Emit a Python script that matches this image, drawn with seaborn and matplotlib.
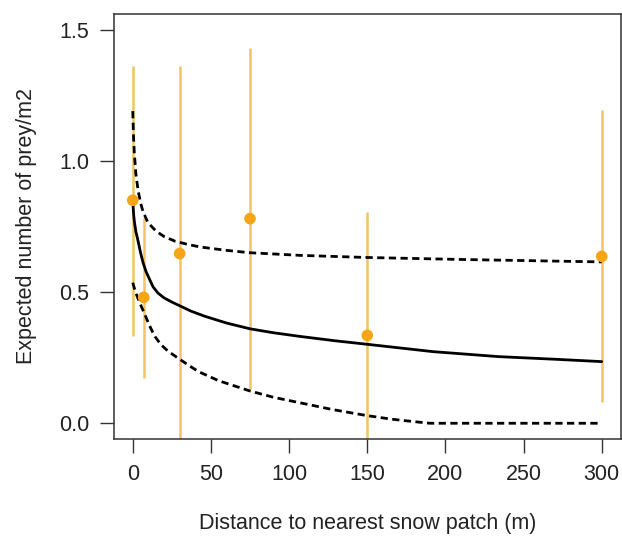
import matplotlib
matplotlib.use("Agg")
import matplotlib.pyplot as plt
import seaborn as sns
import numpy as np
import pandas as pd

# Observed means with intervals
obs_dist = [0, 7, 30, 75, 150, 300]
obs_mean = [0.85, 0.48, 0.647, 0.78, 0.335, 0.636]
obs_low = [0.331, 0.171, -0.10, 0.129, -0.10, 0.080]
obs_high = [1.363, 0.784, 1.363, 1.431, 0.807, 1.195]

# Fitted curve
fit_x = [0, 0.5, 1, 2, 3.2, 5, 6.6, 8.5, 10.8, 13, 16, 20, 25, 30, 37, 46,
         60, 75, 90, 107, 130, 150, 192, 234, 270, 300]
fit_y = [0.846, 0.80, 0.77, 0.73, 0.700, 0.650, 0.612, 0.578, 0.548, 0.520,
         0.497, 0.478, 0.462, 0.448, 0.428, 0.408, 0.382, 0.360, 0.345, 0.331,
         0.314, 0.301, 0.273, 0.254, 0.244, 0.235]

# Upper confidence band
up_x = [0, 0.5, 1, 2, 3.4, 5, 6.6, 9.8, 15, 20, 27, 35, 43, 60, 75, 107,
        149, 213, 300]
up_y = [1.19, 1.09, 1.03, 0.95, 0.888, 0.840, 0.806, 0.764, 0.732, 0.712,
        0.694, 0.682, 0.672, 0.659, 0.650, 0.640, 0.632, 0.624, 0.615]

# Lower confidence band
lo_x = [0, 1.5, 3.2, 5.5, 7.7, 10.5, 14, 18, 22.5, 30, 36, 42, 55, 75, 90,
        107, 128, 149, 165, 177, 190, 300]
lo_y = [0.536, 0.505, 0.478, 0.445, 0.415, 0.375, 0.332, 0.300, 0.275, 0.244,
        0.220, 0.197, 0.162, 0.123, 0.099, 0.078, 0.052, 0.030, 0.016, 0.008,
        0.0, 0.0]

x_ticks = [0, 50, 100, 150, 200, 250, 300]
y_ticks = [0.0, 0.5, 1.0, 1.5]

sns.set_style("ticks")
plt.rcParams['font.family'] = ['Liberation Sans', 'DejaVu Sans']

fig = plt.figure(figsize=(6.22, 5.45), dpi=100)
ax = fig.add_axes([114/622, 1-439/545, (620.5-114)/622, (439-14)/545])

ax.vlines(obs_dist, obs_low, obs_high, color="#F2C463", lw=1.8, zorder=1)

sns.lineplot(x=fit_x, y=fit_y, ax=ax, color="black", lw=2.0, zorder=3)
sns.lineplot(x=up_x, y=up_y, ax=ax, color="black", lw=2.0, zorder=3,
             dashes=False).lines[-1].set_dashes((2.6, 1.6))
sns.lineplot(x=lo_x, y=lo_y, ax=ax, color="black", lw=2.0, zorder=3,
             dashes=False).lines[-1].set_dashes((2.6, 1.6))

sns.scatterplot(x=obs_dist, y=obs_mean, ax=ax, color="#F5A516", s=70,
                edgecolor="none", zorder=4)

ax.set_xlim(-12, 312)
ax.set_ylim(-0.06, 1.56)
ax.set_xticks(x_ticks)
ax.set_xticklabels([str(v) for v in x_ticks])
ax.set_yticks(y_ticks)
ax.set_yticklabels([f"{v:.1f}" for v in y_ticks])

for s in ax.spines.values():
    s.set_visible(True)
    s.set_color("#333333")
    s.set_linewidth(1.1)

ax.tick_params(axis="both", direction="out", length=10, width=1.0,
               color="#333333", labelsize=15.5, labelcolor="#222222", pad=8)

ax.set_xlabel("Distance to nearest snow patch (m)", fontsize=15.5, color="#222222", labelpad=20)
ax.set_ylabel("Expected number of prey/m2", fontsize=15.5, color="#222222", labelpad=16)

fig.savefig("out.png", dpi=100)
